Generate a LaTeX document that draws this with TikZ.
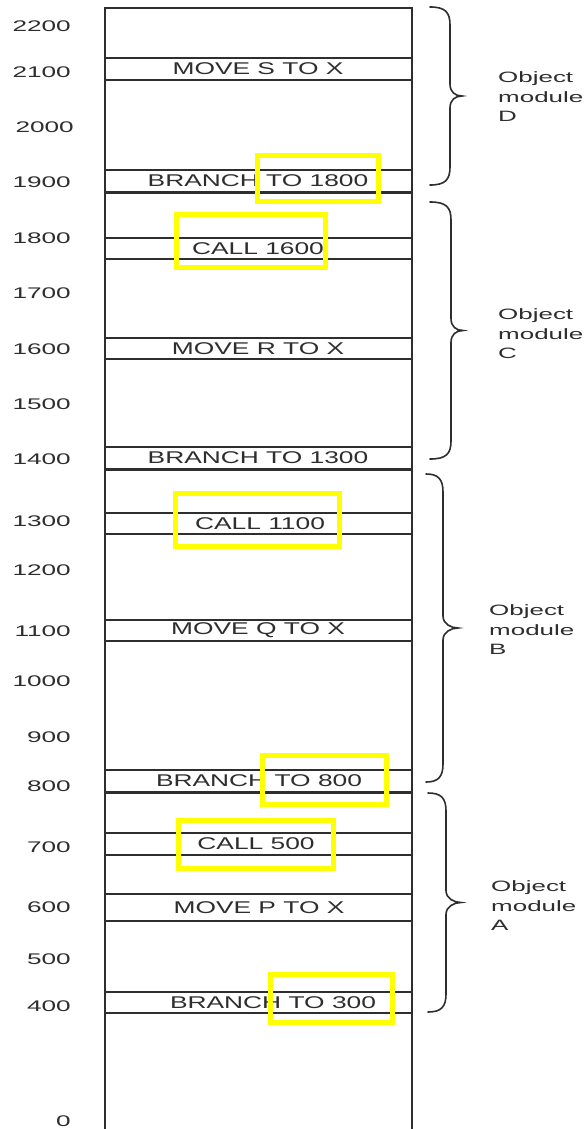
\documentclass[tikz,border=0pt]{standalone}
\usepackage{fontspec}
\newfontfamily\lblfont[FakeStretch=1.7]{Liberation Sans}
\newfontfamily\insfont[FakeStretch=1.55]{Liberation Sans}
\newfontfamily\modfont[FakeStretch=1.73]{Liberation Sans}
\definecolor{ink}{HTML}{2E2E2E}
\definecolor{hl}{HTML}{FFFF00}
% end x, spine x, tip x, top, mid, bottom
\newcommand{\modbr}[6]{%
  \draw[modbrace] (#1,#4) .. controls (#2-5,#4) and (#2,#4+5) .. (#2,#4+18)
    -- (#2,#5-12) .. controls (#2,#5-4) and (#3-7,#5) .. (#3,#5)
    .. controls (#3-7,#5) and (#2,#5+4) .. (#2,#5+12)
    -- (#2,#6-18) .. controls (#2,#6-5) and (#2-5,#6) .. (#1,#6);}
\begin{document}
\begin{tikzpicture}[x=1pt,y=-1pt,
  addr/.style={anchor=east, inner sep=0pt, text=ink, font=\lblfont\fontsize{15.4}{16}\selectfont},
  instr/.style={inner sep=0pt, text=ink, font=\insfont\fontsize{17}{18}\selectfont},
  modlabel/.style={anchor=west, inner sep=0pt, text=ink, align=left, font=\modfont\fontsize{15}{19.5}\selectfont},
  col/.style={draw=ink, line width=1.7pt},
  sep/.style={draw=ink, line width=1.3pt},
  bound/.style={draw=ink, line width=3pt},
  hlbox/.style={draw=hl, line width=5pt},
  modbrace/.style={draw=ink, line width=1.6pt, line cap=round}
]
\useasboundingbox (0,0) rectangle (585,1129);
\fill[white] (0,0) rectangle (585,1129);

% column
\draw[col] (105,1140) -- (105,8) -- (412,8) -- (412,1140);
% separators
\foreach \yy in {58,80,170, 238,259,338,359,447, 513,534,620,641,770, 833,855,894,921,992}
  \draw[sep] (105,\yy) -- (412,\yy);
\foreach \yy in {192,469,792}
  \draw[bound] (105,\yy) -- (412,\yy);
\draw[draw=ink, line width=2pt] (105,1013) -- (412,1013);

% address labels
\node[addr] (a2200) at (71,26) {2200};
\node[addr] (a2100) at (71,72) {2100};
\node[addr] (a2000) at (74,127) {2000};
\node[addr] (a1900) at (71,182) {1900};
\node[addr] (a1800) at (71,238) {1800};
\node[addr] (a1700) at (71,293) {1700};
\node[addr] (a1600) at (71,349) {1600};
\node[addr] (a1500) at (71,404) {1500};
\node[addr] (a1400) at (71,459) {1400};
\node[addr] (a1300) at (71,521) {1300};
\node[addr] (a1200) at (71,570) {1200};
\node[addr] (a1100) at (71,631) {1100};
\node[addr] (a1000) at (71,681) {1000};
\node[addr] (a900) at (71,737) {900};
\node[addr] (a800) at (71,786) {800};
\node[addr] (a700) at (71,847) {700};
\node[addr] (a600) at (71,907) {600};
\node[addr] (a500) at (71,959) {500};
\node[addr] (a400) at (71,1006) {400};
\node[addr] (a0) at (71,1121) {0};

% instructions
\node[instr] (moveS) at (258,69) {MOVE S TO X};
\node[instr] (br1800) at (258,181) {BRANCH TO 1800};
\node[instr] (call1600) at (258,248.5) {CALL 1600};
\node[instr] (moveR) at (258,348.5) {MOVE R TO X};
\node[instr] (br1300) at (258,458) {BRANCH TO 1300};
\node[instr] (call1100) at (260,523.5) {CALL 1100};
\node[instr] (moveQ) at (258,630.5) {MOVE Q TO X};
\node[instr] (br800) at (259,781) {BRANCH TO 800};
\node[instr] (call500) at (256,844) {CALL 500};
\node[instr] (moveP) at (259,907.5) {MOVE P TO X};
\node[instr] (br300) at (273,1002.5) {BRANCH TO 300};

% braces
\modbr{430}{450}{462}{7}{96}{185}
\modbr{430}{451}{463}{202}{330.5}{459}
\modbr{426}{443}{458}{474}{628}{782}
\modbr{428}{446}{461}{793}{902.5}{1012}

% module labels
\node[modlabel] (modD) at (498,97) {Object\\module\\D};
\node[modlabel] (modC) at (498,334) {Object\\module\\C};
\node[modlabel] (modB) at (489,630) {Object\\module\\B};
\node[modlabel] (modA) at (491,906) {Object\\module\\A};

% highlight boxes
\draw[hlbox] (257.5,155.5) rectangle (378.5,201.5);
\draw[hlbox] (176.5,214.5) rectangle (325.5,267.5);
\draw[hlbox] (175.5,493.5) rectangle (339.5,546.5);
\draw[hlbox] (262.5,755.5) rectangle (386.5,804.5);
\draw[hlbox] (178.5,820.5) rectangle (333.5,868.5);
\draw[hlbox] (270.5,974.5) rectangle (392.5,1022.5);
\end{tikzpicture}
\end{document}
